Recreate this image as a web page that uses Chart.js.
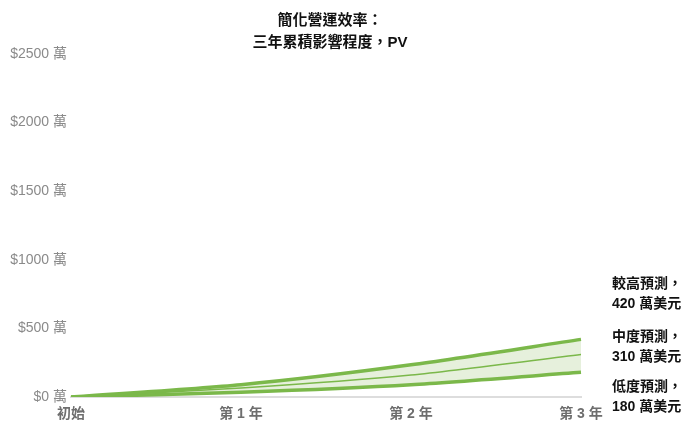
<!DOCTYPE html>
<html lang="zh-Hant">
<head>
<meta charset="utf-8">
<script src="https://cdn.jsdelivr.net/npm/chart.js@4/dist/chart.umd.min.js"></script>
<style>
    body { margin: 0; background: #fff; font-family: Arial, "Liberation Sans", "Noto Sans CJK TC", sans-serif; }
    .wrap { position: relative; width: 692px; height: 423px; }
    .title { position: absolute; left: 180px; width: 300px; top: 9px; text-align: center; font-weight: bold; font-size: 15px; line-height: 22px; color: #111; }
    .note { position: absolute; left: 612px; font-weight: bold; font-size: 14px; line-height: 20px; color: #111; white-space: nowrap; }
</style>
</head>
<body>
<div class="wrap">
    <canvas id="effChart" width="692" height="423"></canvas>
    <div class="title">簡化營運效率：<br>三年累積影響程度，PV</div>
    <div class="note" style="top: 273px;">較高預測，<br>420 萬美元</div>
    <div class="note" style="top: 326px;">中度預測，<br>310 萬美元</div>
    <div class="note" style="top: 376px;">低度預測，<br>180 萬美元</div>
</div>
<script>
// 單位：萬美元
const labels = ['初始', '第 1 年', '第 2 年', '第 3 年'];
const high = [0, 90, 235, 420];
const mid = [0, 65, 160, 310];
const low = [0, 35, 90, 180];
const yTicks = [0, 500, 1000, 1500, 2000, 2500];

const green = '#7bb84a';
const ctx = document.getElementById('effChart');

new Chart(ctx, {
    type: 'line',
    data: {
        labels: labels,
        datasets: [
            {
                label: '較高預測',
                data: high,
                borderColor: green,
                backgroundColor: '#e6f0dc',
                borderWidth: 3.5,
                fill: '+2',
                tension: 0.25,
                pointRadius: 0
            },
            {
                label: '中度預測',
                data: mid,
                borderColor: green,
                borderWidth: 1.5,
                fill: false,
                tension: 0.25,
                pointRadius: 0
            },
            {
                label: '低度預測',
                data: low,
                borderColor: green,
                borderWidth: 3.5,
                fill: false,
                tension: 0.25,
                pointRadius: 0
            }
        ]
    },
    options: {
        responsive: false,
        animation: false,
        layout: {
            padding: { top: 54, right: 111, left: 8, bottom: 0 }
        },
        plugins: {
            legend: { display: false },
            tooltip: { enabled: false },
            filler: { drawTime: 'beforeDatasetsDraw' }
        },
        scales: {
            x: {
                offset: false,
                grid: { display: false, drawTicks: false },
                border: { color: '#dddddd', width: 2 },
                afterFit: (axis) => { axis.height = 26; },
                ticks: {
                    color: '#6e6e6e',
                    font: { family: 'Arial, "Noto Sans CJK TC"', size: 14, weight: 'bold' },
                    maxRotation: 0,
                    padding: 9
                }
            },
            y: {
                min: 0,
                max: 2500,
                afterBuildTicks: (axis) => {
                    axis.ticks = yTicks.map(v => ({ value: v }));
                },
                afterFit: (axis) => { axis.width = 63; },
                grid: { display: false, drawTicks: false },
                border: { display: false },
                ticks: {
                    color: '#8a8a8a',
                    font: { family: 'Arial, "Noto Sans CJK TC"', size: 14 },
                    padding: 4,
                    callback: (v) => '$' + v + ' 萬'
                }
            }
        }
    }
});
</script>
</body>
</html>
